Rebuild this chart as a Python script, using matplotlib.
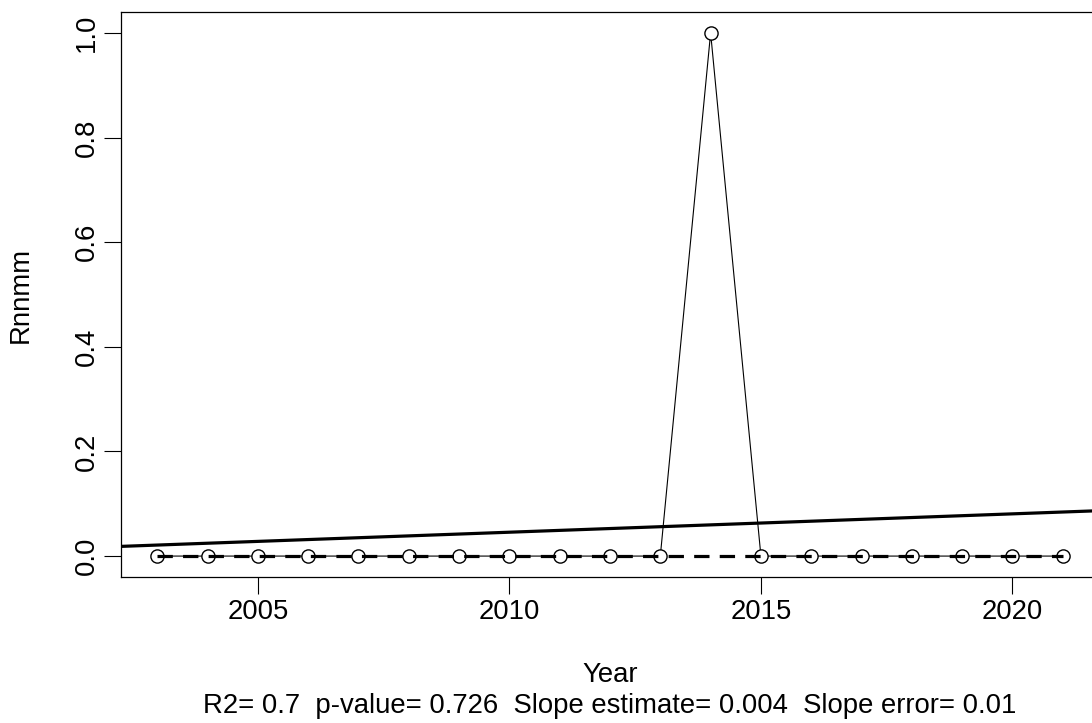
import numpy as np
import matplotlib
matplotlib.use("Agg")
import matplotlib.pyplot as plt

years = np.arange(2003, 2022)
rnnmm = [0, 0, 0, 0, 0, 0, 0, 0, 0, 0, 0, 1, 0, 0, 0, 0, 0, 0, 0]
x_ticks = [2005, 2010, 2015, 2020]
y_ticks = [0.0, 0.2, 0.4, 0.6, 0.8, 1.0]
stats_text = "R2= 0.7  p-value= 0.726  Slope estimate= 0.004  Slope error= 0.01"

plt.rcParams["font.family"] = ["Liberation Sans", "DejaVu Sans"]
FS = 19.8

yv = np.asarray(rnnmm, dtype=float)
xv = years.astype(float)

# least-squares trend
slope, intercept = np.polyfit(xv, yv, 1)

# Theil-Sen trend
pair_slopes = [(yv[j] - yv[i]) / (xv[j] - xv[i])
               for i in range(len(xv)) for j in range(i + 1, len(xv))]
ts_slope = np.median(pair_slopes)
ts_intercept = np.median(yv - ts_slope * xv)

W, H = 1092, 723
fig = plt.figure(figsize=(W / 100, H / 100), dpi=100)
ax_l, ax_r, ax_t, ax_b = 121, 1099, 12, 577
ax = fig.add_axes([ax_l / W, 1 - ax_b / H, (ax_r - ax_l) / W, (ax_b - ax_t) / H])

xmin, xmax = 2003 - 0.04 * 18, 2021 + 0.04 * 18
ymin, ymax = -0.04, 1.04
ax.set_xlim(xmin, xmax)
ax.set_ylim(ymin, ymax)

ax.plot(years, yv, color="black", lw=0.8, zorder=2)
ax.plot(years, yv, linestyle="none", marker="o", ms=9.5, mfc="white",
        mec="black", mew=1.0, zorder=3)
ax.plot(years, ts_intercept + ts_slope * xv, color="black", lw=2.3,
        dashes=(4.8, 3.2), zorder=4)
xl = np.array([xmin, xmax])
ax.plot(xl, intercept + slope * xl, color="black", lw=2.3, zorder=4)

ax.set_xticks(x_ticks)
ax.set_yticks(y_ticks)
ax.set_yticklabels([f"{v:.1f}" for v in y_ticks], rotation=90, va="center")
ax.tick_params(axis="both", labelsize=FS, length=12, width=0.8, color="black")
ax.tick_params(axis="x", pad=4)
ax.tick_params(axis="y", pad=3)
for s in ax.spines.values():
    s.set_linewidth(0.9)

cx = (ax_l + ax_r) / 2 / W
fig.text(21 / W, 1 - 295 / H, "Rnnmm", rotation=90, ha="center", va="center",
         fontsize=FS)
fig.text(cx, 1 - 675 / H, "Year", ha="center", va="center", fontsize=FS)
fig.text(cx, 1 - 706 / H, stats_text, ha="center", va="center", fontsize=FS)

fig.savefig("out.png", dpi=100)
